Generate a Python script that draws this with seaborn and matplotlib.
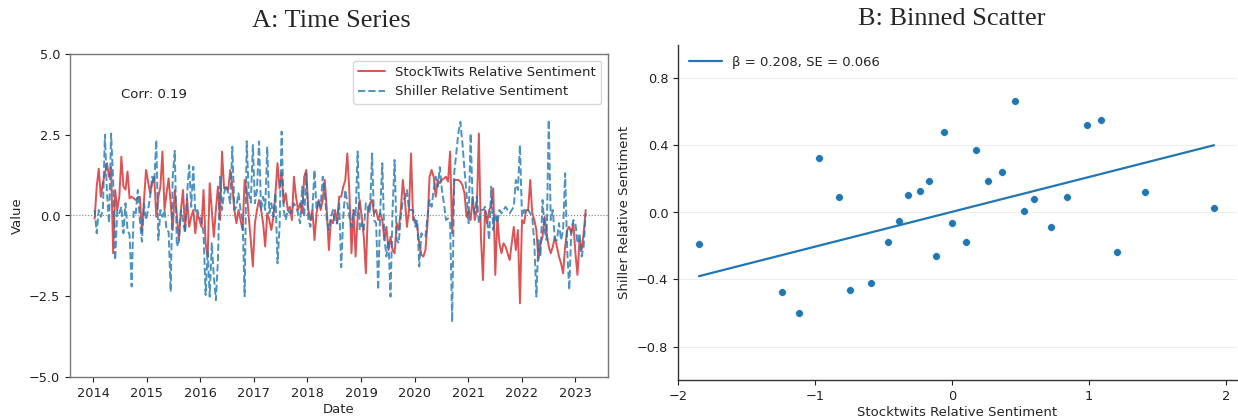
import numpy as np
import pandas as pd
import matplotlib
matplotlib.use("Agg")
import matplotlib.pyplot as plt
import seaborn as sns

# ---------------- data ----------------
start_date = "2014-01-12"
freq = "14D"

stocktwits = [
    -0.1, 0.9, 1.45, 0.58, 1.0, 1.3, 1.62, 1.2, 1.5, -1.17,
    0.79, 0.17, 0.58, 1.82, 0.89, 0.8, 1.36, 0.53, 0.58, 0.53,
    0.48, 0.55, 0.58, -0.5, 0.48, 1.41, 1.05, 0.69, 1.0, 1.2,
    -0.04, 0.58, 0.89, 1.98, 0.17, 0.69, 1.15, 0.38, -0.45, 0.79,
    0.0, -0.76, 0.17, 0.79, -0.45, 0.53, -0.35, -0.04, 0.17, -0.55,
    0.07, -0.14, -0.35, 0.79, -0.86, -1.27, 1.0, 0.17, -0.66, 0.17,
    0.89,
    -0.14, 1.98, 0.84, 0.87, 0.79, 1.41, 0.89, 0.17, -0.24, 0.17,
    -0.14, -0.45, 1.1, 0.79, -0.04, -0.76, -1.58, -0.24, 0.17, 0.48,
    0.17, -0.24, -0.96, 0.07, -0.14, -0.45, -0.04, 0.69, 1.62, 0.84,
    1.31, 0.38, 0.69, 0.17, 0.27, -0.14, 1.2, 0.58, 0.17, 0.38,
    0.07, 1.2, 1.41, 0.17, -0.14, 0.17, -0.76, 0.07, 0.48, 0.17,
    0.48, 1.1, 0.17, -1.07, -0.14, -0.24, 0.17, -0.24, 0.58,
    0.58, 0.89, 1.1, 1.92, 0.69, -1.17, 0.17, -1.27, -0.04, 0.48,
    -0.04, -0.66, -1.79, 0.17, 0.38, 0.48, 0.07, 0.17, -0.14, 0.07,
    -0.14, -0.76, -0.35, -1.07, -0.66, -1.07, -1.17, -0.24, -0.45, 0.17,
    1.1, 0.48, -0.35, 0.17, 1.92, -0.14, -0.14, -0.35, -0.86, -1.22,
    -1.27, -1.07, -0.24, 1.2, 1.41, 1.2, 0.58, 1.1, 1.0, 1.1,
    1.15, 1.2, 1.05, 1.98, -0.55, 1.1, 1.1, 1.1, 1.05,
    0.94, 0.69, -0.04, 0.17, -0.14, 0.58, -0.14, 0.17, 2.54, -0.66,
    -2.0, 0.17, -0.24, 0.17, 0.27, 0.84, -1.84, -0.04, -0.86, -1.17,
    -0.86, -0.96, -1.17, -1.38, -0.86, -0.35, -1.07, -0.45, -2.72, -0.14,
    -0.24, 0.17, 0.17, 1.1, 0.07, -0.14, -0.45, -1.38, -0.86, -0.66,
    -0.04, -0.55, -0.96, -1.17, -0.96, -0.66, -0.96, -1.27, -1.48, -1.79,
    -0.96, -0.45, -0.35, -0.55, -0.24, -1.17, -1.84, -0.76, -1.07, -0.55,
    0.17,
]

shiller = [
    0.17, -0.55, 0.17, -0.04, 0.17, 2.5, 0.69, -0.24, 2.54, 1.1,
    -1.38, 0.17, 0.07, 0.27, -0.55, 0.38, -0.45, -0.6, -2.2, 0.17,
    0.07, 0.79, -0.14, -0.81, 0.38, -0.14, 0.17, 0.58, 1.2, 1.0,
    2.34, -0.76, 0.17, -0.04, 0.17, -0.45, -0.5, -2.36, 1.2, 2.0,
    -0.96, -0.8, 0.17, -0.14, -0.55, 0.69, 1.56, 0.27, 1.51, 0.07,
    0.17, -0.04, -0.14, -0.55, -2.46, -1.07, -2.51, -0.86, -1.89, -2.62,
    -1.38,
    1.2, 0.17, 0.69, 0.94, 0.69, 0.38, 2.13, 0.17, 0.27, 0.69,
    0.17, -0.14, -2.5, 2.3, 0.69, 0.4, 2.18, 0.38, 0.79, 2.29,
    0.17, 0.58, 0.17, 2.13, 0.07, 0.38, -0.04, 0.69, -1.48, -0.35,
    2.6, 0.17, -0.14, 0.17, 0.07, 0.17, 0.38, 0.27, 0.07, -0.24,
    0.89, -0.04, 1.31, -0.14, -0.35, 0.17, 1.41, 0.17, 0.48, 0.27,
    1.2, 0.69, -0.14, -0.45, -0.04, 0.17, -0.24, -0.24, 0.38,
    -1.6, -0.04, 0.79, 0.38, -0.04, -0.35, 0.17, -0.04, 1.98, -0.45,
    -0.24, -0.45, 0.38, 0.27, 0.07, 1.92, -0.14, -0.24, -2.3, 0.17,
    1.62, -0.66, -1.27, -0.76, -2.51, 0.17, 1.72, -0.76, -0.86, -0.04,
    0.48, 0.53, 0.79, 0.17, 0.17, 0.17, -0.35, -0.14, -1.58, -0.55,
    -0.66, -0.66, -0.04, 0.48, 0.27, 0.79, 1.2, 0.89, 1.5, 0.79,
    0.38, -0.14, -0.09, -0.24, -3.3, 1.31, 1.92, 2.54, 2.9,
    2.23, 1.41, 0.69, -0.24, 2.54, 0.38, 0.07, 0.58, -0.24, 0.17,
    0.17, 0.27, -0.14, -0.76, 0.89, -0.45, 0.07, -0.24, 0.17, 0.07,
    0.17, 0.27, 0.17, 0.07, 0.17, 0.27, 1.1, 0.79, 2.18, -0.04,
    0.17, 0.07, 0.17, 0.07, -0.04, -0.86, -2.51, -0.76, -1.27, 0.48,
    -0.45, -0.76, 2.96, -0.14, 0.17, -0.76, -0.76, -0.24, -0.76, -0.45,
    1.31, -1.07, -2.3, -0.45, -0.14, -0.24, -0.86, -0.55, -1.27, -0.96,
    0.07,
]

corr_text = "Corr: 0.19"
series_labels = ["StockTwits Relative Sentiment", "Shiller Relative Sentiment"]

bin_x = [-1.847, -1.238, -1.117, -0.968, -0.827, -0.747, -0.588, -0.467, -0.384,
         -0.323, -0.231, -0.168, -0.119, -0.061, 0.003, 0.100, 0.175, 0.263,
         0.365, 0.458, 0.526, 0.601, 0.723, 0.837, 0.985, 1.088, 1.207, 1.407,
         1.912]
bin_y = [-0.188, -0.472, -0.600, 0.328, 0.092, -0.462, -0.422, -0.176, -0.052,
         0.104, 0.130, 0.186, -0.262, 0.482, -0.064, -0.174, 0.376, 0.188,
         0.244, 0.668, 0.010, 0.080, -0.086, 0.090, 0.524, 0.554, -0.236, 0.124,
         0.024]
fit_beta = 0.208
fit_se = 0.066
fit_intercept = 0.004
fit_label = f"β = {fit_beta:.3f}, SE = {fit_se:.3f}"

left_yticks = [-5.0, -2.5, 0.0, 2.5, 5.0]
right_yticks = [-0.8, -0.4, 0.0, 0.4, 0.8]
right_xticks = [-2, -1, 0, 1, 2]

# ---------------- figure ----------------
sns.set_style("white")
plt.rcParams["font.family"] = ["DejaVu Sans"]

W, H = 1238, 419
fig = plt.figure(figsize=(W / 100, H / 100), dpi=100)

axA = fig.add_axes([70 / W, 1 - 377 / H, (608 - 70) / W, (377 - 54) / H])
axB = fig.add_axes([678 / W, 1 - 380 / H, (1237 - 678) / W, (380 - 45) / H])

tick_fs = 9.25
label_fs = 9.5

# ---- Panel A ----
dates = pd.date_range(start_date, periods=len(stocktwits), freq=freq)
dfA = pd.DataFrame({"Date": dates, "st": stocktwits, "sh": shiller})

red = "#d62728"
blue = "#1f77b4"
sns.lineplot(data=dfA, x="Date", y="st", ax=axA, color=red, alpha=0.8,
             linewidth=1.4, label=series_labels[0])
sns.lineplot(data=dfA, x="Date", y="sh", ax=axA, color=blue, alpha=0.8,
             linewidth=1.4, linestyle="--", label=series_labels[1])
axA.axhline(0, color="grey", linestyle=":", linewidth=0.8)
axA.set_ylim(-5, 5)
axA.set_yticks(left_yticks)
axA.set_xlim(pd.Timestamp("2013-07-28"), pd.Timestamp("2023-08-11"))
axA.xaxis.set_major_locator(matplotlib.dates.YearLocator())
axA.xaxis.set_major_formatter(matplotlib.dates.DateFormatter("%Y"))
axA.set_xlabel("Date", fontsize=label_fs, labelpad=2)
axA.set_ylabel("Value", fontsize=label_fs)
axA.tick_params(axis="both", labelsize=tick_fs, length=3.5, width=0.8,
                bottom=True, left=True, colors="#222222")
for s in axA.spines.values():
    s.set_color("#777777")
    s.set_linewidth(1.0)
axA.text(0.095, 0.865, corr_text, transform=axA.transAxes, fontsize=label_fs,
         color="#222222")
legA = axA.legend(loc="upper right", fontsize=label_fs, frameon=True,
                  borderaxespad=0.5, handlelength=2.0)
legA.get_frame().set_edgecolor("#cccccc")

# ---- Panel B ----
dfB = pd.DataFrame({"x": bin_x, "y": bin_y})
fit_x = np.array([min(bin_x), max(bin_x)])
dfFit = pd.DataFrame({"x": fit_x, "y": fit_intercept + fit_beta * fit_x})
sns.scatterplot(data=dfB, x="x", y="y", ax=axB, color=blue, s=32,
                edgecolor="white", linewidth=0.5)
sns.lineplot(data=dfFit, x="x", y="y", ax=axB, color=blue, linewidth=1.6,
             label=fit_label)
axB.set_xlim(-2, 2.08)
axB.set_ylim(-1, 1)
axB.set_xticks(right_xticks)
axB.set_yticks(right_yticks)
axB.set_yticklabels([f"{v:.1f}".replace("-", "\u2212") for v in right_yticks])
axB.set_xticklabels([f"{v}".replace("-", "\u2212") for v in right_xticks])
axB.yaxis.grid(True, color="#eeeeee", linewidth=0.8)
axB.set_axisbelow(True)
axB.set_xlabel("Stocktwits Relative Sentiment", fontsize=label_fs, labelpad=2)
axB.set_ylabel("Shiller Relative Sentiment", fontsize=label_fs)
axB.tick_params(axis="both", labelsize=tick_fs, length=3.5, width=0.8,
                bottom=True, left=True, colors="#222222")
sns.despine(ax=axB)
for s in ["left", "bottom"]:
    axB.spines[s].set_color("#333333")
    axB.spines[s].set_linewidth(1.0)
axB.legend(loc="upper left", fontsize=label_fs, frameon=False,
           borderaxespad=0.4, handlelength=2.5)

# ---- Titles ----
fig.text(331 / W, 1 - 27 / H, "A: Time Series", ha="center", va="baseline",
         fontsize=19, family="Liberation Serif")
fig.text(952 / W, 1 - 25 / H, "B: Binned Scatter", ha="center", va="baseline",
         fontsize=19, family="Liberation Serif")

fig.savefig("out.png", dpi=100)
